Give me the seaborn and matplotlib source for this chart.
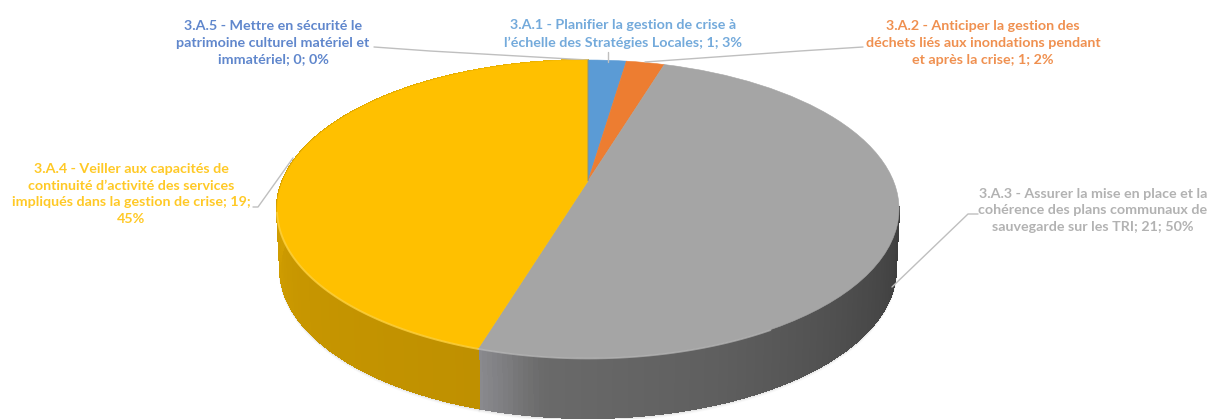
import numpy as np
import seaborn as sns
import matplotlib
matplotlib.use("Agg")
import matplotlib.pyplot as plt
from matplotlib.transforms import Transform

# data
categories = ["3.A.1 - Planifier la gestion de crise à\nl’échelle des Stratégies Locales; 1; 3%",
              "3.A.2 - Anticiper la gestion des\ndéchets liés aux inondations pendant\net après la crise; 1; 2%",
              "3.A.3 - Assurer la mise en place et la\ncohérence des plans communaux de\nsauvegarde sur les TRI; 21; 50%",
              "3.A.4 - Veiller aux capacités de\ncontinuité d’activité des services\nimpliqués dans la gestion de crise; 19;\n45%",
              "3.A.5 - Mettre en sécurité le\npatrimoine culturel matériel et\nimmatériel; 0; 0%"]
values = [1, 1, 21, 19, 0]
colors = ["#5B9BD5", "#ED7D31", "#A5A5A5", "#FFC000", "#4472C4"]

sns.set_theme(style="white")
plt.rcParams['font.family'] = ['Lato', 'DejaVu Sans']

# tilt of the disc (perspective), pixels
CX, CY = 588, 181
K, A, C = 305.5, 109.7, 0.188
DEPTH = 60


def warp(x, y):
    d = 1 + C * y
    return CX + K * x / d, (CY - A * y) / d


class DiskWarp(Transform):
    input_dims = 2
    output_dims = 2

    def transform_non_affine(self, values):
        px, py = warp(values[:, 0], values[:, 1])
        return np.column_stack([px, py])


fig = plt.figure(figsize=(12.10, 4.19), dpi=100)
ax = fig.add_axes([0, 0, 1, 1])
wedges, _ = ax.pie(values, colors=colors, startangle=90, counterclock=False,
                   wedgeprops={"linewidth": 0.4})
ax.set_box_aspect(None)
ax.set_aspect("auto")
ax.set_xlim(0, 1210)
ax.set_ylim(419, 0)
for w, c in zip(wedges, colors):
    w.set_transform(DiskWarp() + ax.transData)
    w.set_edgecolor(c)
    w.set_zorder(5)


def rim(theta):
    # theta in degrees, clockwise from the top
    t = np.radians(theta)
    return warp(np.sin(t), np.cos(t))


# side wall, split in strips so that the shade changes along the rim
wall_shades = {"#A5A5A5": ["#8A8A8E", "#6A6A6A", "#666666", "#626262", "#5E5E5E", "#585858",
                           "#525252", "#4C4C4C", "#474747", "#424242", "#3E3E3E"],
               "#FFC000": ["#BF9000", "#C79600", "#D6A200", "#E3AC00", "#EFB500"]}
edges = np.cumsum([0] + values) / sum(values) * 360
for i, c in enumerate(colors):
    if c not in wall_shades:
        continue
    if c == "#A5A5A5":
        t0, t1 = edges[i + 1], 100
    else:
        t0, t1 = edges[i], edges[i + 1]
    n = 120
    shades = sns.blend_palette(wall_shades[c], n)
    ts = np.linspace(t0, t1, n + 1)
    for j in range(n):
        seg = np.linspace(ts[j], ts[j + 1], 4)
        xt, yt = rim(seg)
        xb = CX + (xt - CX) * 0.99
        yb = yt + DEPTH
        ax.fill(np.r_[xt, xb[::-1]], np.r_[yt, yb[::-1]], color=shades[j],
                lw=0.8, antialiased=False, zorder=3)
    # soft shadow under the wall
    seg = np.linspace(min(t0, t1), max(t0, t1), 80)
    xt, yt = rim(seg)
    for off in [1, 2, 3]:
        ax.plot(CX + (xt - CX) * 0.99, yt + DEPTH + off, color="#808080", lw=1.5,
                alpha=0.12 / off, zorder=2)

# light bevel along the front rim
seg = np.linspace(edges[3], 258, 60)
xt, yt = rim(seg)
ax.plot(xt, yt + 0.5, color="#FFD23F", lw=1.4, zorder=6, alpha=0.8)
seg = np.linspace(150, edges[3], 60)
xt, yt = rim(seg)
ax.plot(xt, yt + 0.5, color="#BDBDBD", lw=1.2, zorder=6, alpha=0.7)

# leader lines
line_color = "#BFBFBF"
ax.plot([608, 608], [52, 62], color=line_color, lw=1, zorder=7)
ax.plot([374, 430, 588], [47, 51, 60], color=line_color, lw=1, zorder=4)
ax.plot([863, 800, 645], [47, 51, 62], color=line_color, lw=1, zorder=7)
ax.plot([253, 258, 293], [207, 207, 158], color=line_color, lw=1, zorder=4)
ax.plot([978, 968, 892], [214, 214, 287], color=line_color, lw=1, zorder=7)

# labels
label_pos = [(623, 34), (983, 43), (1093, 210), (131, 194), (273, 43)]
for txt, (lx, ly), c in zip(categories, label_pos, colors):
    ax.text(lx, ly, txt, color=c, ha="center", va="center", fontsize=10.3,
            fontweight="bold", linespacing=1.45, alpha=0.85)

ax.axis("off")
fig.savefig("out.png", dpi=100)
